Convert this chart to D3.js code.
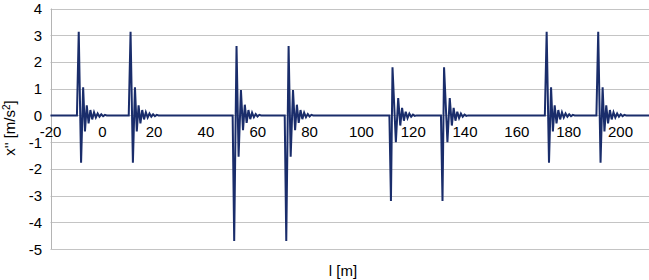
<!DOCTYPE html>
<html>
<head>
<meta charset="utf-8">
<script src="https://cdn.jsdelivr.net/npm/d3@7"></script>
<style>
  body { margin: 0; background: #fff; }
  text { font-family: "Liberation Sans", Arial, sans-serif; fill: #000; }
</style>
</head>
<body>
<div id="plot"></div>
<script>
// x positions [m] of the main spike of each pulse
const pulsePositions = [-9.1, 10.9, 50.9, 71.0, 111.4, 131.3, 171.5, 191.4];
// which pulse shape each of them has
const pulseTypes = ["A", "A", "B", "B", "C", "C", "A", "A"];

// pulse shapes: offset from main spike [m] and acceleration [m/s2]
const shapeOffsets = {
  A: [-0.7, 0, 0.9, 1.7, 2.4, 3.1, 3.8, 4.5, 5.2, 5.9, 6.6, 7.3, 8.0, 8.7, 9.4, 10.1, 10.8],
  B: [-0.6, 0, 0.9, 1.7, 2.6, 3.4, 4.1, 4.8, 5.5, 6.2, 6.9, 7.6, 8.3, 9.0, 9.7, 10.4],
  C: [-0.6, 0, 0.6, 1.9, 2.8, 3.6, 4.3, 5.0, 5.7, 6.4, 7.1, 7.8, 8.5, 9.2, 9.9]
};
const shapeValues = {
  A: [0, 3.13, -1.77, 1.05, -0.6, 0.38, -0.3, 0.2, -0.15, 0.12, -0.08, 0.07, -0.05, 0.04, -0.03, 0.02, 0],
  B: [0, -4.7, 2.6, -1.55, 0.95, -0.55, 0.4, -0.28, 0.2, -0.14, 0.1, -0.07, 0.05, -0.04, 0.02, 0],
  C: [0, -3.2, 1.8, -1.0, 0.65, -0.38, 0.28, -0.2, 0.14, -0.1, 0.07, -0.05, 0.03, -0.02, 0]
};

// axis ticks (the chart is cut off before 220)
const xTicks = [-20, 0, 20, 40, 60, 80, 100, 120, 140, 160, 180, 200];
const yTicks = [-5, -4, -3, -2, -1, 0, 1, 2, 3, 4];

// build the series: flat zero line with the pulses placed on it
const series = [{ x: -20, y: 0 }];
pulsePositions.forEach((p, i) => {
  const t = pulseTypes[i];
  shapeOffsets[t].forEach((o, j) => series.push({ x: p + o, y: shapeValues[t][j] }));
});
series.push({ x: 240, y: 0 });

const width = 649;
const height = 280;

const svg = d3.select("#plot")
  .append("svg")
  .attr("width", width)
  .attr("height", height);

// the chart is cut off on the right, so the line runs past the svg edge
const x = d3.scaleLinear()
  .domain([-20, 200])
  .range([50.5, 620.5]);

const y = d3.scaleLinear()
  .domain([-5, 4])
  .range([249, 8.5]);

// horizontal gridlines
svg.append("g")
  .selectAll("line")
  .data(yTicks)
  .enter()
  .append("line")
  .attr("x1", x(-20))
  .attr("x2", width)
  .attr("y1", d => Math.round(y(d)) + 0.5)
  .attr("y2", d => Math.round(y(d)) + 0.5)
  .attr("stroke", "#c4c4c4")
  .attr("stroke-width", 1);

// left border of the plot area
svg.append("line")
  .attr("x1", Math.round(x(-20)) + 0.5)
  .attr("x2", Math.round(x(-20)) + 0.5)
  .attr("y1", y(4))
  .attr("y2", y(-5))
  .attr("stroke", "#b4b4b4");

// y tick labels
svg.append("g")
  .selectAll("text")
  .data(yTicks)
  .enter()
  .append("text")
  .attr("x", 42)
  .attr("y", d => y(d) + 5.5)
  .attr("text-anchor", "end")
  .style("font-size", "15px")
  .text(d => d);

// x tick labels, sitting under the zero line
svg.append("g")
  .selectAll("text")
  .data(xTicks)
  .enter()
  .append("text")
  .attr("x", d => x(d))
  .attr("y", y(0) + 22)
  .attr("text-anchor", "middle")
  .style("font-size", "15px")
  .text(d => d);

// the signal
const line = d3.line()
  .x(d => x(d.x))
  .y(d => y(d.y));

svg.append("path")
  .datum(series)
  .attr("d", line)
  .attr("fill", "none")
  .attr("stroke", "#1a2d6b")
  .attr("stroke-width", 2)
  .attr("stroke-linejoin", "miter")
  .attr("stroke-miterlimit", 4);

// axis titles
const yLabel = svg.append("text")
  .attr("transform", "translate(15,128) rotate(-90)")
  .attr("text-anchor", "middle")
  .style("font-size", "15px");
yLabel.append("tspan").text("x'' [m/s");
yLabel.append("tspan").attr("dy", -5).style("font-size", "10px").text("2");
yLabel.append("tspan").attr("dy", 5).text("]");

svg.append("text")
  .attr("x", 343)
  .attr("y", 276)
  .attr("text-anchor", "middle")
  .style("font-size", "15px")
  .text("l [m]");
</script>
</body>
</html>
